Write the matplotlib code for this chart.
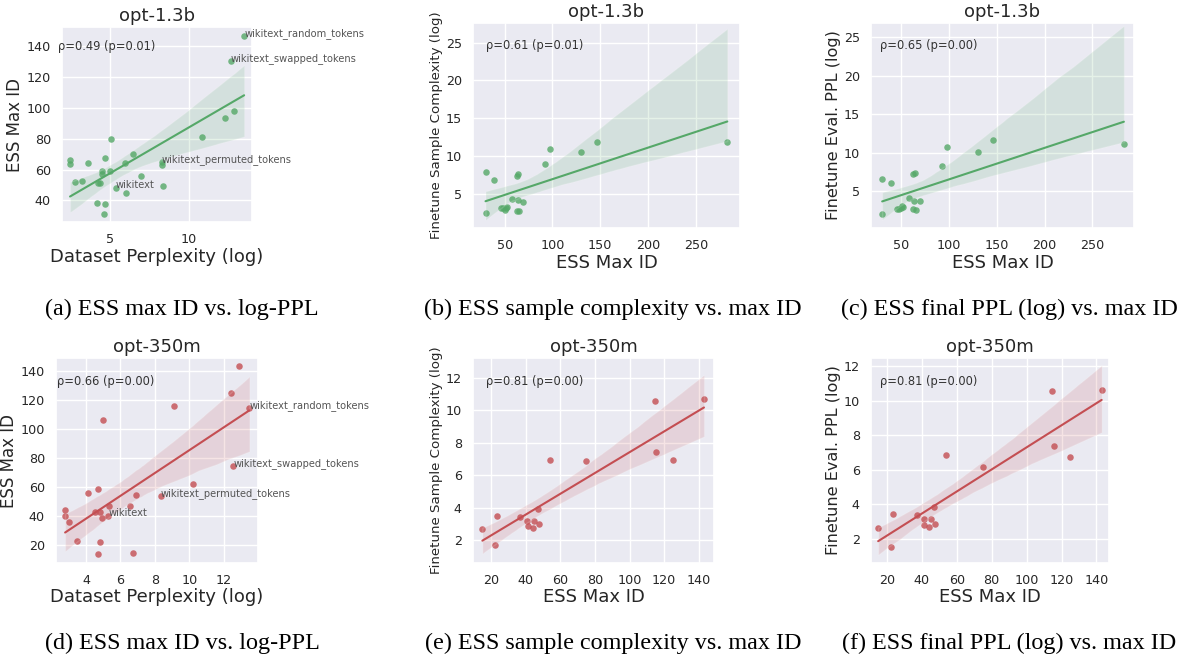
import numpy as np
import matplotlib
matplotlib.use("Agg")
import matplotlib.pyplot as plt
import seaborn as sns

sns.set_theme(style="darkgrid", color_codes=True)

# opt-1.3b: dataset perplexity vs ESS max ID
a_ppl = [13.5, 12.64, 12.28, 12.87, 10.84, 8.27, 8.27, 8.33, 6.94, 6.43, 5.93, 6.01, 5.36, 5.06,
         4.96, 4.66, 4.49, 4.47, 4.35, 4.2, 4.18, 4.64, 4.62, 3.57, 3.19, 2.77, 2.45, 2.45]
a_ess = [146.5, 130, 93.1, 97.9, 80.8, 65.1, 63.1, 49.3, 55.6, 70, 64.2, 45, 47.8, 80,
         58.8, 67.2, 59, 57.3, 51, 51.2, 38.3, 37.4, 31.1, 64, 52.7, 51.7, 65.9, 63.8]
a_names = {0: "wikitext_random_tokens", 1: "wikitext_swapped_tokens",
           5: "wikitext_permuted_tokens", 12: "wikitext"}

# opt-1.3b: ESS max ID vs finetune metrics
ess_13 = [30, 30, 39, 46, 48, 50, 51, 52, 58, 62.5, 64, 63.5, 62.5, 65, 69.5, 92.5, 97.5, 130, 146.5, 283]
b_cplx = [7.83, 2.44, 6.77, 3.15, 3.06, 2.8, 3.15, 3.2, 4.3, 7.34, 7.56, 4.1, 2.7, 2.7, 3.94,
          8.93, 10.9, 10.56, 11.9, 11.84]
c_ppl = [6.56, 2.02, 6.08, 2.75, 2.71, 2.8, 3.1, 3.0, 4.14, 7.25, 7.33, 3.7, 2.67, 2.6, 3.75,
         8.28, 10.7, 10.05, 11.6, 11.13]

# opt-350m: dataset perplexity vs ESS max ID
d_ppl = [12.89, 12.41, 13.5, 9.09, 4.97, 12.56, 10.19, 8.35, 6.93, 6.54, 5.34, 5.3, 4.95, 4.68,
         4.14, 4.52, 4.8, 2.78, 2.78, 3.03, 3.48, 4.82, 4.68, 6.72]
d_ess = [143.4, 125.1, 114.7, 115.9, 106.2, 74.5, 61.8, 53.8, 54.5, 46.7, 46.7, 40.2, 38.2, 58.4,
         55.6, 43, 43, 44.1, 40, 36.1, 22.8, 21.8, 13.8, 14.3]
d_names = {2: "wikitext_random_tokens", 5: "wikitext_swapped_tokens",
           7: "wikitext_permuted_tokens", 11: "wikitext"}

# opt-350m: ESS max ID vs finetune metrics
ess_350 = [15, 22.5, 23.5, 37, 41, 41.5, 44, 45, 47, 47.5, 54, 75, 114.5, 115.5, 125, 143]
e_cplx = [2.66, 1.67, 3.47, 3.43, 3.18, 2.85, 2.74, 3.16, 3.9, 2.97, 6.94, 6.9, 10.6, 7.43, 6.92, 10.68]
f_ppl = [2.62, 1.55, 3.43, 3.4, 3.14, 2.81, 2.66, 3.14, 3.84, 2.85, 6.84, 6.19, 10.59, 7.4, 6.77, 10.64]

rho_txt = ["ρ=0.49 (p=0.01)", "ρ=0.61 (p=0.01)", "ρ=0.65 (p=0.00)",
           "ρ=0.66 (p=0.00)", "ρ=0.81 (p=0.00)", "ρ=0.81 (p=0.00)"]
captions = ["(a) ESS max ID vs. log-PPL", "(b) ESS sample complexity vs. max ID",
            "(c) ESS final PPL (log) vs. max ID", "(d) ESS max ID vs. log-PPL",
            "(e) ESS sample complexity vs. max ID", "(f) ESS final PPL (log) vs. max ID"]

W, H = 1184, 664
fig = plt.figure(figsize=(W / 100, H / 100), dpi=100)


def box(l, r, t, b):
    return [l / W, (H - b) / H, (r - l) / W, (b - t) / H]


def panel(rect, x, y, col, title, xlab, ylab, rho, rho_pos, xlim, ylim, ylab_size=12, names=None):
    ax = fig.add_axes(rect)
    sns.regplot(x=np.array(x), y=np.array(y), ax=ax, color=col, seed=3,
                scatter_kws={"s": 22, "alpha": 0.8, "linewidths": 0},
                line_kws={"lw": 1.5})
    ax.set_xlim(*xlim)
    ax.set_ylim(*ylim)
    ax.set_title(title, fontsize=13, pad=4)
    ax.set_xlabel(xlab, fontsize=13, labelpad=1)
    ax.set_ylabel(ylab, fontsize=ylab_size, labelpad=2)
    ax.tick_params(labelsize=9.2, pad=2)
    ax.text(rho_pos[0], rho_pos[1], rho, transform=ax.transAxes, fontsize=8.3,
            va="center", ha="left", color="#333333")
    if names:
        for i, nm in names.items():
            ax.text(x[i], y[i], nm, fontsize=7.1, color="#555555", clip_on=False)
    return ax


ax = panel(box(62, 252, 27, 222), a_ppl, a_ess, "g", "opt-1.3b", "Dataset Perplexity (log)",
           "ESS Max ID", rho_txt[0], (-0.02, 0.90), (1.94, 14.0), (26, 152.3), names=a_names)
ax.set_xticks([5, 10])
ax = panel(box(473, 740, 23, 228), ess_13, b_cplx, "g", "opt-1.3b", "ESS Max ID",
           "Finetune Sample Complexity (log)", rho_txt[1], (0.05, 0.89), (16.9, 296.3), (0.45, 27.6),
           ylab_size=9.6)
ax = panel(box(871, 1134, 23, 228), ess_13, c_ppl, "g", "opt-1.3b", "ESS Max ID",
           "Finetune Eval. PPL (log)", rho_txt[2], (0.034, 0.89), (18.3, 293.6), (0.25, 26.8),
           ylab_size=11.6)
ax = panel(box(56, 258, 358, 563), d_ppl, d_ess, "r", "opt-350m", "Dataset Perplexity (log)",
           "ESS Max ID", rho_txt[3], (0.005, 0.884), (2.25, 14.0), (7.4, 149.2), names=d_names)
ax.set_xticks([4, 6, 8, 10, 12])
ax.set_yticks([20, 40, 60, 80, 100, 120, 140])
ax = panel(box(473, 714, 358, 563), ess_350, e_cplx, "r", "opt-350m", "ESS Max ID",
           "Finetune Sample Complexity (log)", rho_txt[4], (0.054, 0.884), (9.6, 148.8), (0.57, 13.24),
           ylab_size=9.6)
ax.set_xticks([20, 40, 60, 80, 100, 120, 140])
ax = panel(box(871, 1109, 358, 563), ess_350, f_ppl, "r", "opt-350m", "ESS Max ID",
           "Finetune Eval. PPL (log)", rho_txt[5], (0.038, 0.884), (10.9, 147.2), (0.6, 12.48),
           ylab_size=11.6)
ax.set_xticks([20, 40, 60, 80, 100, 120, 140])

cap_x = [182, 613, 1009, 182, 613, 1009]
cap_y = [309, 309, 309, 643, 643, 643]
for cx, cy, c in zip(cap_x, cap_y, captions):
    fig.text(cx / W, 1 - cy / H, c, ha="center", va="center", fontsize=17.4,
             family="Liberation Serif", color="black")

fig.savefig("out.png", dpi=100)
